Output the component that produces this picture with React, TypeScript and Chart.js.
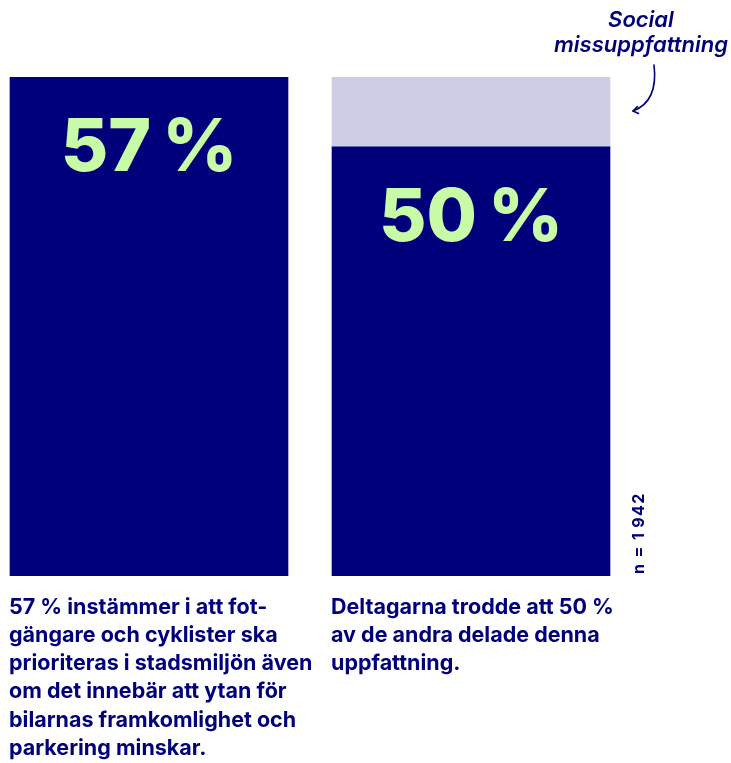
import React, { useEffect, useRef } from "react";
import { Chart, registerables } from "chart.js";

Chart.register(...registerables);

// ---- data ----
const categories = ["Instämmer", "Trodde att andra instämmer"];
const actualShare = [57, 50]; // %
const misperception = [0, 7]; // social missuppfattning (57 − 50)
const percentLabels = ["57", "50"];
const sampleSize = "n = 1\u2009942";
const captionLeft = [
  "57\u00A0% instämmer i att fot-",
  "gängare och cyklister ska",
  "prioriteras i stadsmiljön även",
  "om det innebär att ytan för",
  "bilarnas framkomlighet och",
  "parkering minskar.",
];
const captionRight = [
  "Deltagarna trodde att 50\u00A0%",
  "av de andra delade denna",
  "uppfattning.",
];
const annotationLines = ["Social", "missuppfattning"];

const NAVY = "#00007a";
const LAVENDER = "#cdcde5";
const GREEN = "#c8fba6";

const W = 731;
const H = 763;

const labelPlugin = {
  id: "pctLabels",
  afterDatasetsDraw(chart: any) {
    const ctx = chart.ctx;
    const meta = chart.getDatasetMeta(0);
    ctx.save();
    ctx.fillStyle = GREEN;
    ctx.font = "800 73px Inter, 'Noto Sans', sans-serif";
    ctx.textBaseline = "alphabetic";
    ctx.textAlign = "left";
    meta.data.forEach((bar: any, i: number) => {
      const num = percentLabels[i];
      const gap = 11;
      const wn = ctx.measureText(num).width;
      const wp = ctx.measureText("%").width;
      const total = wn + gap + wp;
      const x0 = bar.x - total / 2;
      const y = bar.y + 94;
      ctx.fillText(num, x0, y);
      ctx.fillText("%", x0 + wn + gap, y);
    });
    ctx.restore();
  },
};

export default function App() {
  const ref = useRef<HTMLCanvasElement | null>(null);

  useEffect(() => {
    if (!ref.current) return;
    const chart = new Chart(ref.current, {
      type: "bar",
      data: {
        labels: categories,
        datasets: [
          {
            label: "Andel",
            data: actualShare,
            backgroundColor: NAVY,
            borderWidth: 0,
            barThickness: 278,
            clip: { left: false, right: false, top: 0, bottom: 0 } as any,
          },
          {
            label: "Social missuppfattning",
            data: misperception,
            backgroundColor: LAVENDER,
            borderWidth: 0,
            barThickness: 278,
            clip: { left: false, right: false, top: 0, bottom: 0 } as any,
          },
        ],
      },
      options: {
        animation: false,
        responsive: false,
        devicePixelRatio: 1,
        layout: { padding: { left: 149, right: 260, top: 77, bottom: 187 } },
        plugins: { legend: { display: false }, tooltip: { enabled: false } },
        scales: {
          x: { display: false, stacked: true, offset: false },
          y: { display: false, stacked: true, min: 7, max: 57 },
        },
      },
      plugins: [labelPlugin],
    });
    return () => chart.destroy();
  }, []);

  const capStyle: React.CSSProperties = {
    position: "absolute",
    top: 591.5,
    fontFamily: "Inter, 'Noto Sans', sans-serif",
    fontWeight: 700,
    fontSize: 21.5,
    lineHeight: "28.3px",
    color: NAVY,
    whiteSpace: "nowrap",
  };

  return (
    <div style={{ position: "absolute", left: 0, top: 0, width: W, height: H, background: "#fff", overflow: "hidden" }}>
      <canvas ref={ref} width={W} height={H} style={{ position: "absolute", left: 0, top: 0, width: W, height: H }} />
      <div style={{ ...capStyle, left: 9 }}>
        {captionLeft.map((l, i) => (
          <div key={i}>{l}</div>
        ))}
      </div>
      <div style={{ ...capStyle, left: 331 }}>
        {captionRight.map((l, i) => (
          <div key={i}>{l}</div>
        ))}
      </div>
      <div
        style={{
          position: "absolute",
          left: 629.5,
          top: 574,
          transformOrigin: "0 0",
          transform: "rotate(-90deg)",
          fontFamily: "Inter, 'Noto Sans', sans-serif",
          fontWeight: 700,
          fontSize: 16,
          lineHeight: "16px",
          letterSpacing: "1.4px",
          color: NAVY,
          whiteSpace: "nowrap",
        }}
      >
        {sampleSize}
      </div>
      <div
        style={{
          position: "absolute",
          left: 541,
          top: 7,
          width: 200,
          textAlign: "center",
          fontFamily: "Inter, 'Noto Sans', sans-serif",
          fontWeight: 600,
          fontStyle: "italic",
          fontSize: 22,
          lineHeight: "25px",
          color: NAVY,
          whiteSpace: "nowrap",
        }}
      >
        {annotationLines.map((l, i) => (
          <div key={i}>{l}</div>
        ))}
      </div>
      <svg width={W} height={H} style={{ position: "absolute", left: 0, top: 0, pointerEvents: "none" }}>
        <path d="M654 65 C657 90, 649 105, 633 111" fill="none" stroke={NAVY} strokeWidth={1.6} strokeLinecap="round" />
        <path d="M637.5 106.5 L633 111 L638.5 113.5" fill="none" stroke={NAVY} strokeWidth={1.6} strokeLinecap="round" strokeLinejoin="round" />
      </svg>
    </div>
  );
}
